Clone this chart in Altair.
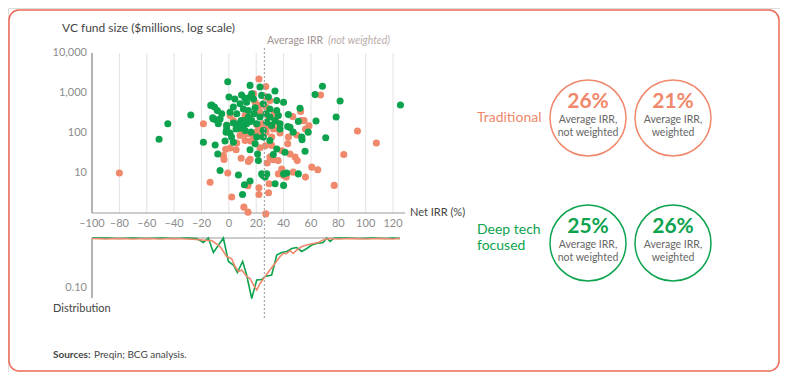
import altair as alt
import pandas as pd

ORANGE = "#F0886B"
BORDER = "#EC6A55"
GREEN = "#0DA34E"
DARK = "#444444"
GREY = "#8C8C8C"
FONT = "Lato"

# ---------------- data ----------------
trad_irr = [-80, -18.6, 22, 27, 67, 94, 107.8, 84, 77, -13.7, 2.1, 11, 14, 27, 22, 22, 29, 29.4, 14,
            -0.8, 9, 14.3, 15.5, -3.5, -2.3, 0.9, 5.8, 5.3, 11.9, 16, 22.8, 26.7, 31.3, 30, 28, 32.5,
            36, 38.7, 43, 44.7, 48.4, 50, 43.5, 37.4, 36.2, 38.7, 40, 42, 36.2, 47, 46.7, 52.5, 53, 55,
            56, 49.6, 58.6, 60.6, 65, 56, 20.4, 24.8, 29, 33.3, 35, 15.5, 11.9, 3.3, 5.8, 0.9, 19.2,
            22.8, 15.5, 20.9, 18.4, 24, 27.2, 31.3, 8.2, 11.9, 27.7, 32.5, 22.8, 27.2, 18, 26.5, 30,
            -4, -1.5, 8.3, 12, 23, 20.5]
trad_size = [10, 170, 2240, 1445, 891, 112, 56, 29, 4.9, 5.9, 2.5, 1.4, 1.05, 0.95, 4.3, 2.9, 3.2, 5.4, 4.8,
             10, 23.4, 19.5, 21.9, 21.9, 39, 42, 56, 38, 65, 63, 43, 48, 49, 25, 17.8, 21.4,
             20.4, 36, 54, 30, 25, 20.4, 79, 100, 126, 12.6, 8.7, 7.9, 9.5, 10.5, 257, 347, 204, 204,
             126, 89, 151, 14, 12, 7.9, 162, 170, 251, 302, 186, 224, 275, 204, 155, 275, 589,
             490, 95, 110, 79, 83, 105, 79, 87, 112, 141, 126, 331, 447, 955, 813, 646,
             27.5, 155, 126, 95, 155, 105]

deep_irr = [-51, -44.6, -27.8, -18.6, -10, -6.4, -0.8, 15.5, 22.8, 33.7, 63, 68.4, 81.3, 125.4, 78.4,
            63.7, 70.8, 58, 53.5, 55.7, 50.8, 40, 33.8, 15.5, 11.4, 10, 7, 21.6, 24, 25, 27.7, 26.5,
            40, 42.3, 32.5, 41, 3.3, -2.8, -8.1, 15.5, 21, 19.2, 25.2, 30, 20.4, 16.2, 11.9, 8.2, 9,
            3.3, -1.6, -2, 0.9, 5.3, -12.5, -10.5, -8.4, -6.4, -11.8, -9.4, -5.2, 0.1, 4.4, 9.3, 11.8,
            15.5, 16.7, 18, 24, 28.9, 35, 40, 13, 8.2, 3.3, 0.9, 5.8, 10.6, 14.3, 19.2, 25.2, 30, 35,
            36.2, 33.7, 30, 27.2, 22.8, 18.5, 14.3, 10.6, 7, 27.7, 31.3, 37.4, 43.5, 50.8, 52, 43, 47,
            44.7, 37.4, 25.2, 13, 16, -1.6, -7.7, -11.3, -13.2, 2, 10.6, 16.7, 20.4, 35, 53.3]
deep_size = [70, 170, 282, 59, 50, 11.5, 1905, 1549, 1413, 1122, 912, 1479, 631, 501, 251,
             200, 76, 105, 68, 35, 9.5, 4.9, 5.4, 6.3, 5.1, 2.9, 8.9, 20.4, 9.5, 8.7, 9.5, 7.9,
             9.5, 10, 29, 33, 59, 63, 30, 38, 30, 54, 79, 65, 170, 105, 115, 132, 204,
             178, 155, 105, 100, 126, 501, 447, 363, 224, 240, 214, 302, 794, 708, 891, 741,
             794, 955, 708, 871, 794, 646, 589, 589, 537, 447, 331, 302, 398, 363, 427, 537, 398, 363,
             275, 204, 251, 302, 251, 302, 251, 204, 170, 186, 155, 170, 288, 195, 417, 145, 105,
             138, 126, 115, 170, 195, 126, 170, 224, 490, 79, 155, 204, 79, 40, 79]

dist_deep_irr = [-100, -90, -80, -70, -60, -50, -40, -30, -23.5, -18.6, -15, -11.3, -4, -0.3, 3.3, 6.2,
                 10.1, 13, 16.7, 20.4, 24, 26.5, 31.3, 35, 38.6, 42.3, 46, 49.6, 53.3, 57, 60.6, 64.2,
                 69, 71.5, 74, 77, 85, 95, 105, 115, 120, 125]
dist_deep_val = [0, 0, 0.001, 0, 0.001, 0, 0.001, 0, 0.001, 0.009, 0, 0.029, 0, 0.047, 0.054, 0.069,
                 0.047, 0.074, 0.121, 0.084, 0.083, 0.077, 0.074, 0.034, 0.029, 0.027, 0.021, 0.019,
                 0.027, 0.021, 0.014, 0.011, 0.009, 0, 0.007, 0, 0, 0.001, 0, 0.001, 0, 0.001]

dist_trad_irr = [-100, -90, -80, -70, -60, -50, -40, -30, -23.5, -16, -12.5, -6.4, -1.6, 2, 4.5, 7, 9.4,
                 13, 15.5, 18, 20.4, 22.8, 26.5, 30, 33.7, 37.4, 39.8, 42.3, 44.7, 47, 49.6, 53.3, 57,
                 61.8, 65.4, 69, 72.8, 80, 90, 100, 110, 120, 125]
dist_trad_val = [0.001, 0.002, 0.001, 0.002, 0.001, 0.002, 0.001, 0.002, 0.003, 0.005, 0.005, 0.017,
                 0.037, 0.041, 0.057, 0.067, 0.064, 0.077, 0.081, 0.094, 0.104, 0.091, 0.077, 0.064,
                 0.051, 0.037, 0.031, 0.031, 0.025, 0.031, 0.024, 0.017, 0.014, 0.011, 0.009, 0.004,
                 0.001, 0.002, 0.001, 0.002, 0.001, 0.002, 0.001]

x_ticks = [-100, -80, -60, -40, -20, 0, 20, 40, 60, 80, 100, 120]
grid_ticks = [-80, -60, -40, -20, 0, 20, 40, 60, 80, 100, 120]
y_ticks = [10, 100, 1000, 10000]
y_tick_labels = ["10", "100", "1,000", "10,000"]
dist_tick = [0.10]
dist_tick_label = ["0.10"]
avg_irr = [26]

groups = ["Traditional", "Deep tech focused"]
avg_not_weighted = ["26%", "25%"]
avg_weighted = ["21%", "26%"]

# ---------------- scales ----------------
xscale = alt.Scale(domain=[-100, 128], range=[84, 396], nice=False, zero=False)
yscale = alt.Scale(type="log", domain=[1, 10000], range=[205, 45], nice=False)
dscale = alt.Scale(domain=[0, 0.1], range=[230, 280], nice=False, zero=False)


def X(field="v"):
    return alt.X(f"{field}:Q", scale=xscale, axis=None)


def txt(s, x, y, size=11, color=DARK, align="left", weight="normal", style="normal"):
    return alt.Chart(pd.DataFrame({"t": [s]})).mark_text(
        align=align, baseline="middle", fontSize=size, color=color,
        fontWeight=weight, fontStyle=style, font=FONT
    ).encode(x=alt.value(x), y=alt.value(y), text="t:N")


layers = []
dummy = pd.DataFrame({"a": [0]})

# outer rounded border
layers.append(alt.Chart(dummy).mark_rect(fill=None, fillOpacity=0, stroke=BORDER, strokeWidth=1.5,
                                         cornerRadius=10)
              .encode(x=alt.value(1), x2=alt.value(771), y=alt.value(2), y2=alt.value(363)))

# grid
layers.append(alt.Chart(pd.DataFrame({"v": grid_ticks})).mark_rule(color="#E2E2E2", strokeWidth=1)
              .encode(x=X(), y=alt.value(45), y2=alt.value(205)))
# axes lines
layers.append(alt.Chart(dummy).mark_rule(color="#9A9A9A", strokeWidth=1.5)
              .encode(x=alt.value(84), y=alt.value(45), y2=alt.value(205)))
layers.append(alt.Chart(dummy).mark_rule(color="#9A9A9A", strokeWidth=1.2)
              .encode(x=alt.value(84), x2=alt.value(397), y=alt.value(205)))
layers.append(alt.Chart(dummy).mark_rule(color="#9A9A9A", strokeWidth=1.2)
              .encode(x=alt.value(84), x2=alt.value(392), y=alt.value(230)))
layers.append(alt.Chart(dummy).mark_rule(color="#9A9A9A", strokeWidth=1.5)
              .encode(x=alt.value(84), y=alt.value(230), y2=alt.value(290)))

# scatter
trad_df = pd.DataFrame({"irr": trad_irr, "size": trad_size})
deep_df = pd.DataFrame({"irr": deep_irr, "size": deep_size})
layers.append(alt.Chart(trad_df).mark_circle(size=50, opacity=1, color=ORANGE)
              .encode(x=X("irr"), y=alt.Y("size:Q", scale=yscale, axis=None)))
layers.append(alt.Chart(deep_df).mark_circle(size=50, opacity=1, color=GREEN)
              .encode(x=X("irr"), y=alt.Y("size:Q", scale=yscale, axis=None)))

# distribution lines
dd = pd.DataFrame({"irr": dist_deep_irr, "val": dist_deep_val})
dt = pd.DataFrame({"irr": dist_trad_irr, "val": dist_trad_val})
layers.append(alt.Chart(dd).mark_line(color=GREEN, strokeWidth=1.6)
              .encode(x=X("irr"), y=alt.Y("val:Q", scale=dscale, axis=None)))
layers.append(alt.Chart(dt).mark_line(color=ORANGE, strokeWidth=1.6)
              .encode(x=X("irr"), y=alt.Y("val:Q", scale=dscale, axis=None)))

# average line
layers.append(alt.Chart(pd.DataFrame({"v": avg_irr})).mark_rule(color="#A8A8A8", strokeWidth=1.2, strokeDash=[2, 2])
              .encode(x=X(), y=alt.value(40), y2=alt.value(312)))

# tick labels
xl = pd.DataFrame({"v": x_ticks, "label": [str(v).replace("-", "\u2013") for v in x_ticks]})
layers.append(alt.Chart(xl).mark_text(fontSize=11, color=GREY, baseline="middle", font=FONT)
              .encode(x=X(), y=alt.value(216), text="label:N"))
yl = pd.DataFrame({"v": y_ticks, "label": y_tick_labels})
layers.append(alt.Chart(yl).mark_text(fontSize=11, color=GREY, align="right", baseline="middle", font=FONT)
              .encode(x=alt.value(79), y=alt.Y("v:Q", scale=yscale, axis=None), text="label:N"))
dl = pd.DataFrame({"v": dist_tick, "label": dist_tick_label})
layers.append(alt.Chart(dl).mark_text(fontSize=11, color=GREY, align="right", baseline="middle", font=FONT)
              .encode(x=alt.value(79), y=alt.Y("v:Q", scale=dscale, axis=None), text="label:N"))

# texts
layers.append(txt("VC fund size ($millions, log scale)", 54, 20, size=12))
layers.append(txt("Average IRR", 259, 33, size=10.5, color="#A09390"))
layers.append(txt("(not weighted)", 320, 33, size=10.5, color="#B8ADA9", style="italic"))
layers.append(txt("Net IRR (%)", 402, 205, size=11))
layers.append(txt("Distribution", 45, 301, size=11))
layers.append(txt("Sources:", 45, 347, size=10, weight="bold"))
layers.append(txt("Preqin; BCG analysis.", 86, 347, size=10))

# right side
layers.append(txt(groups[0], 469, 110, size=14, color=ORANGE))
layers.append(txt("Deep tech", 469, 222, size=14, color=GREEN))
layers.append(txt("focused", 469, 238, size=14, color=GREEN))


def circle(cx, cy, color, big, l2):
    out = [alt.Chart(dummy).mark_point(shape="circle", size=5776, filled=False, strokeWidth=1.5,
                                       color=color, opacity=1)
           .encode(x=alt.value(cx), y=alt.value(cy))]
    out.append(txt(big, cx, cy - 16, size=21, color=color, align="center", weight="bold"))
    out.append(txt("Average IRR,", cx, cy + 2, size=10.5, color="#666666", align="center"))
    out.append(txt(l2, cx, cy + 15, size=10.5, color="#666666", align="center"))
    return out


layers += circle(580, 110, ORANGE, avg_not_weighted[0], "not weighted")
layers += circle(665, 110, ORANGE, avg_weighted[0], "weighted")
layers += circle(580, 235, GREEN, avg_not_weighted[1], "not weighted")
layers += circle(665, 235, GREEN, avg_weighted[1], "weighted")

chart = alt.layer(*layers).resolve_scale(y="independent").properties(
    width=772, height=364, padding=0, autosize=alt.AutoSizeParams(type="none")
).configure_view(strokeWidth=0).configure(font=FONT)

chart.save("out.html", embed_options={"renderer": "svg", "actions": False})
